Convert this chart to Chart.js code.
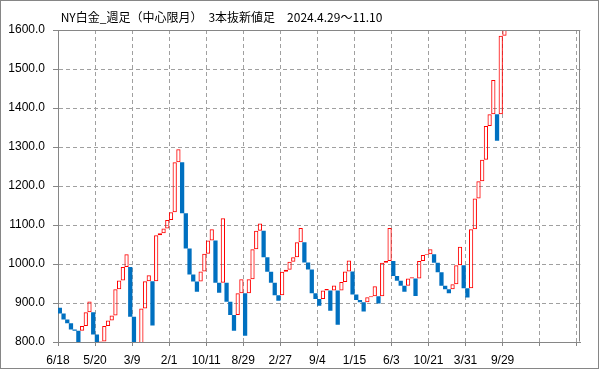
<!DOCTYPE html>
<html>
<head>
<meta charset="utf-8">
<script src="https://cdn.jsdelivr.net/npm/chart.js@4.4.1/dist/chart.umd.min.js"></script>
<style>
  html, body { margin: 0; padding: 0; background: #fff; }
  #wrap { width: 599px; height: 369px; position: relative; }
</style>
</head>
<body>
<div id="wrap"><canvas id="brickChart"></canvas></div>
<script>
// labels every 10 bricks
const tickDates = ['6/18', '5/20', '3/9', '2/1', '10/11', '8/29', '2/27', '9/4', '1/15', '6/3', '10/21', '3/31', '9/29', '', ''];

// each brick: open -> close (red when close > open)
const brickOpen = [
  888, 873, 858, 848, 832, 829, 829, 841, 876, 876,
  819, 785, 801, 841, 855, 868, 935, 958, 992, 992,
  865, 785, 785, 886, 956, 956, 956, 1074, 1079, 1091,
  1113, 1133, 1261, 1261, 1130, 1040, 973, 955, 955, 981,
  1026, 1060, 1060, 952, 952, 952, 903, 869, 869, 925,
  925, 925, 961, 1038, 1085, 1085, 1017, 980, 952, 920,
  920, 980, 985, 1006, 1017, 1056, 1056, 1004, 986, 925,
  910, 910, 932, 932, 932, 932, 932, 954, 981, 981,
  922, 908, 902, 902, 915, 917, 917, 917, 1003, 1008,
  1008, 969, 957, 944, 944, 963, 963, 963, 1008, 1023,
  1025, 1025, 1003, 979, 944, 935, 935, 948, 997, 997,
  938, 938, 1089, 1168, 1212, 1267, 1354, 1384, 1384, 1384,
  1585
];
const brickClose = [
  873, 858, 848, 832, 829, 785, 841, 876, 904, 819,
  785, 801, 841, 855, 868, 935, 958, 992, 1025, 865,
  785, 770, 886, 956, 971, 842, 1074, 1079, 1091, 1113,
  1133, 1261, 1294, 1130, 1040, 973, 955, 929, 981, 1026,
  1060, 1089, 952, 926, 1117, 903, 869, 829, 925, 961,
  816, 961, 1038, 1085, 1104, 1017, 980, 952, 920, 906,
  980, 985, 1006, 1017, 1056, 1092, 1004, 986, 925, 910,
  893, 932, 936, 880, 945, 844, 954, 981, 1009, 922,
  908, 902, 878, 915, 917, 943, 899, 1003, 1008, 1092,
  969, 957, 944, 929, 963, 966, 918, 1008, 1023, 1025,
  1038, 1003, 979, 944, 935, 925, 948, 997, 1044, 938,
  914, 1089, 1168, 1212, 1267, 1354, 1384, 1472, 1316, 1585,
  1630
];

const slotCount = 141;
const UP = '#FF0000';
const DOWN = '#0070C0';
const GRID = '#A0A0A0';
const AXIS = '#868686';
const FONT = { family: '"Liberation Sans", Arial, sans-serif', size: 12 };

const labels = [];
for (let i = 0; i < slotCount; i++) {
    labels.push(i % 10 === 0 ? tickDates[i / 10] : '');
}
const bricks = brickOpen.map((o, i) => [o, brickClose[i]]);
const isUp = i => brickClose[i] > brickOpen[i];

const frame = {
    id: 'frame',
    beforeDraw(chart) {
        const ctx = chart.ctx;
        ctx.save();
        ctx.fillStyle = '#fff';
        ctx.fillRect(0, 0, chart.width, chart.height);
        ctx.restore();
    },
    afterDraw(chart) {
        const ctx = chart.ctx;
        const a = chart.chartArea;
        const l = Math.round(a.left) - 0.5;
        const t = Math.round(a.top) + 0.5;
        const r = Math.round(a.right) - 0.5;
        const b = Math.round(a.bottom) - 0.5;
        ctx.save();
        ctx.strokeStyle = AXIS;
        ctx.lineWidth = 1;
        ctx.beginPath();
        ctx.moveTo(l, t);
        ctx.lineTo(r, t);
        ctx.lineTo(r, b);
        ctx.stroke();
        ctx.strokeRect(0.5, 0.5, chart.width - 1, chart.height - 1);
        ctx.restore();
    }
};

const ctx = document.getElementById('brickChart').getContext('2d');
new Chart(ctx, {
    type: 'bar',
    data: {
        labels: labels,
        datasets: [{
            data: bricks,
            backgroundColor: c => isUp(c.dataIndex) ? 'rgba(0,0,0,0)' : DOWN,
            borderColor: UP,
            borderWidth: c => isUp(c.dataIndex) ? 1 : 0,
            borderSkipped: false,
            barPercentage: 1.15,
            categoryPercentage: 1
        }]
    },
    options: {
        responsive: true,
        maintainAspectRatio: false,
        animation: false,
        devicePixelRatio: 1,
        layout: { padding: { left: 0, right: 18.6, top: 0, bottom: 0 } },
        plugins: {
            legend: { display: false },
            tooltip: { enabled: false },
            title: {
                display: true,
                text: ' NY白金_週足（中心限月）　3本抜新値足　2024.4.29～11.10',
                align: 'start',
                fullSize: false,
                color: '#000',
                font: { family: '"Noto Sans CJK JP", sans-serif', size: 12, weight: 'normal', lineHeight: 1.2 },
                padding: { top: 10, bottom: 5.6 }
            }
        },
        scales: {
            x: {
                type: 'category',
                offset: true,
                grid: {
                    offset: true,
                    color: c => c.index % 10 === 0 ? GRID : 'rgba(0,0,0,0)',
                    tickColor: c => c.index % 10 === 0 ? AXIS : 'rgba(0,0,0,0)',
                    tickLength: 4
                },
                border: { color: AXIS, dash: [4, 3] },
                ticks: {
                    autoSkip: false,
                    maxRotation: 0,
                    minRotation: 0,
                    labelOffset: -1.85,
                    padding: 7,
                    color: '#000',
                    font: FONT
                },
                afterFit: s => { s.height = 27; }
            },
            y: {
                min: 800,
                max: 1600,
                grid: { color: GRID, tickColor: AXIS, tickLength: 5 },
                border: { color: AXIS, dash: [4, 3] },
                ticks: {
                    stepSize: 100,
                    padding: 8,
                    color: '#000',
                    font: FONT,
                    callback: v => v.toFixed(1)
                },
                afterFit: s => { s.width = 58; }
            }
        }
    },
    plugins: [frame]
});
</script>
</body>
</html>
